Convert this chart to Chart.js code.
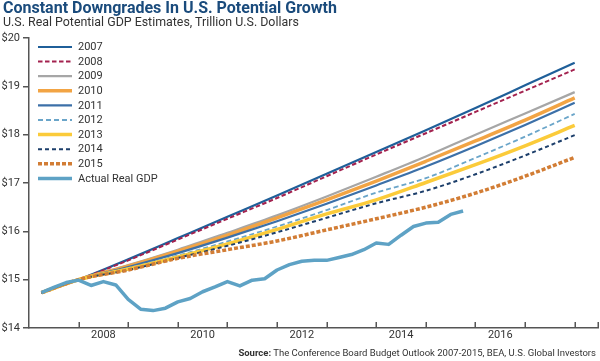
<!DOCTYPE html>
<html>
<head>
<meta charset="utf-8">
<script src="https://cdn.jsdelivr.net/npm/chart.js@4.4.1/dist/chart.umd.min.js"></script>
<style>
    html, body { margin: 0; padding: 0; background: #fff; }
    #wrap { position: relative; width: 600px; height: 361px; overflow: hidden; }
    #chart { position: absolute; left: 0; top: 0; }
    #title {
        position: absolute; left: 3px; top: -2px;
        font: bold 16px Roboto, sans-serif; color: #1a4b7c; white-space: nowrap;
    }
    #subtitle {
        position: absolute; left: 3px; top: 14px;
        font: 12.4px Roboto, sans-serif; color: #333; white-space: nowrap;
    }
    #source {
        position: absolute; right: 4px; top: 347px;
        font: 9.5px Roboto, sans-serif; color: #333; white-space: nowrap;
    }
</style>
</head>
<body>
<div id="wrap">
    <canvas id="chart" width="600" height="361"></canvas>
    <div id="title">Constant Downgrades In U.S. Potential Growth</div>
    <div id="subtitle">U.S. Real Potential GDP Estimates, Trillion U.S. Dollars</div>
    <div id="source"><b>Source:</b> The Conference Board Budget Outlook 2007-2015, BEA, U.S. Global Investors</div>
</div>
<script>
// ==============================
// Data
// ==============================

const projYears = [2007.25, 2008, 2009, 2010, 2011, 2012, 2013, 2014, 2015, 2016, 2017, 2018];

const est2007 = [14.73, 15.00, 15.42, 15.86, 16.30, 16.74, 17.19, 17.64, 18.09, 18.55, 19.02, 19.49];
const est2008 = [14.73, 15.00, 15.40, 15.83, 16.26, 16.69, 17.14, 17.59, 18.03, 18.47, 18.91, 19.35];
const est2009 = [14.73, 15.00, 15.30, 15.62, 15.97, 16.33, 16.72, 17.13, 17.55, 18.00, 18.44, 18.88];
const est2010 = [14.73, 15.00, 15.28, 15.59, 15.92, 16.28, 16.65, 17.04, 17.45, 17.87, 18.30, 18.76];
const est2011 = [14.73, 15.00, 15.26, 15.55, 15.87, 16.21, 16.57, 16.95, 17.34, 17.76, 18.20, 18.66];
const est2012 = [14.73, 15.00, 15.24, 15.50, 15.79, 16.10, 16.44, 16.80, 17.10, 17.52, 17.96, 18.43];
const est2013 = [14.73, 15.00, 15.22, 15.47, 15.74, 16.04, 16.36, 16.65, 17.01, 17.38, 17.77, 18.19];
const est2014 = [14.73, 15.00, 15.20, 15.45, 15.70, 15.98, 16.28, 16.58, 16.84, 17.18, 17.57, 17.99];
const est2015 = [14.73, 15.00, 15.20, 15.44, 15.62, 15.80, 16.03, 16.26, 16.50, 16.79, 17.14, 17.53];

const gdpQuarters = [
    2007.25, 2007.5, 2007.75, 2008, 2008.25, 2008.5, 2008.75, 2009, 2009.25, 2009.5, 2009.75, 2010,
    2010.25, 2010.5, 2010.75, 2011, 2011.25, 2011.5, 2011.75, 2012, 2012.25, 2012.5, 2012.75, 2013,
    2013.25, 2013.5, 2013.75, 2014, 2014.25, 2014.5, 2014.75, 2015, 2015.25, 2015.5, 2015.75
];
const gdpActual = [
    14.73, 14.84, 14.94, 14.99, 14.88, 14.96, 14.89, 14.59, 14.39, 14.36, 14.41, 14.54,
    14.61, 14.75, 14.85, 14.96, 14.87, 14.99, 15.02, 15.20, 15.31, 15.38, 15.40, 15.40,
    15.46, 15.52, 15.62, 15.76, 15.73, 15.92, 16.10, 16.17, 16.19, 16.35, 16.42
];

const xLabelYears = [2008, 2010, 2012, 2014, 2016];
const xTickYears = [2008, 2009, 2010, 2011, 2012, 2013, 2014, 2015, 2016, 2017, 2018];
const yTicks = [14, 15, 16, 17, 18, 19, 20];

// ==============================
// Datasets
// ==============================

function toPoints(xs, ys) {
    return xs.map((x, i) => ({ x: x, y: ys[i] }));
}

function projection(label, values, color, width, dash, order) {
    return {
        label: label,
        data: toPoints(projYears, values),
        borderColor: color,
        borderWidth: width,
        borderDash: dash,
        cubicInterpolationMode: "monotone",
        pointRadius: 0,
        order: order
    };
}

const datasets = [
    projection("2007", est2007, "#1f5f99", 2.2, [], 9),
    projection("2008", est2008, "#a3224f", 2, [4.5, 2.5], 8),
    projection("2009", est2009, "#a6a6a6", 2.2, [], 7),
    projection("2010", est2010, "#f2a444", 3.5, [], 6),
    projection("2011", est2011, "#3c70a8", 2.2, [], 5),
    projection("2012", est2012, "#6aa5c9", 1.8, [5, 3], 4),
    projection("2013", est2013, "#fbcb3a", 3.5, [], 3),
    projection("2014", est2014, "#1d3f6b", 2, [4, 3], 2),
    projection("2015", est2015, "#d27d35", 3.5, [4, 2], 1),
    {
        label: "Actual Real GDP",
        data: toPoints(gdpQuarters, gdpActual),
        borderColor: "#5ea2c5",
        borderWidth: 3.5,
        borderDash: [],
        borderJoinStyle: "round",
        pointRadius: 0,
        tension: 0,
        order: 0
    }
];

// ==============================
// Plugins
// ==============================

// x axis tick marks point up into the plot
const xTickMarks = {
    id: "xTickMarks",
    afterDraw(chart) {
        const ctx = chart.ctx;
        const xs = chart.scales.x;
        const bottom = chart.chartArea.bottom;
        ctx.save();
        ctx.strokeStyle = "#555";
        ctx.lineWidth = 1.5;
        xTickYears.concat([xs.max]).forEach(year => {
            const px = Math.round(xs.getPixelForValue(year)) + 0.25;
            ctx.beginPath();
            ctx.moveTo(px, bottom);
            ctx.lineTo(px, bottom - 6);
            ctx.stroke();
        });
        ctx.restore();
    }
};

// legend drawn in a single column inside the plot
const insideLegend = {
    id: "insideLegend",
    afterDraw(chart) {
        const ctx = chart.ctx;
        ctx.save();
        ctx.font = "11px Roboto, sans-serif";
        ctx.textBaseline = "middle";
        chart.data.datasets.forEach((ds, i) => {
            const y = 47 + i * 14.6;
            ctx.strokeStyle = ds.borderColor;
            ctx.lineWidth = ds.borderWidth;
            ctx.setLineDash(ds.borderDash || []);
            ctx.beginPath();
            ctx.moveTo(38, y);
            ctx.lineTo(72, y);
            ctx.stroke();
            ctx.setLineDash([]);
            ctx.fillStyle = "#333";
            ctx.fillText(ds.label, 78, y + 0.5);
        });
        ctx.restore();
    }
};

// ==============================
// Chart
// ==============================

new Chart(document.getElementById("chart"), {
    type: "line",
    data: { datasets: datasets },
    options: {
        responsive: false,
        animation: false,
        layout: {
            padding: { top: 38, right: 2, bottom: 0, left: 0 }
        },
        plugins: {
            legend: { display: false },
            tooltip: { enabled: false }
        },
        scales: {
            x: {
                type: "linear",
                min: 2007,
                max: 2018.47,
                afterBuildTicks: scale => {
                    scale.ticks = xLabelYears.map(y => ({ value: y + 0.5 }));
                },
                afterFit: scale => { scale.height = 33; },
                grid: { display: false, drawTicks: false },
                border: { display: true, color: "#555", width: 1.5 },
                ticks: {
                    padding: 1,
                    maxRotation: 0,
                    color: "#333",
                    font: { family: "Roboto", size: 11 },
                    callback: value => String(Math.floor(value))
                }
            },
            y: {
                min: 14,
                max: 20,
                afterBuildTicks: scale => {
                    scale.ticks = yTicks.map(v => ({ value: v }));
                },
                afterFit: scale => { scale.width = 29; },
                grid: {
                    display: true,
                    drawOnChartArea: false,
                    drawTicks: true,
                    tickLength: 6,
                    tickColor: "#555",
                    lineWidth: 1.5
                },
                border: { display: true, color: "#555", width: 1.5 },
                ticks: {
                    padding: 3,
                    color: "#333",
                    font: { family: "Roboto", size: 11 },
                    callback: value => "$" + value
                }
            }
        }
    },
    plugins: [xTickMarks, insideLegend]
});
</script>
</body>
</html>
